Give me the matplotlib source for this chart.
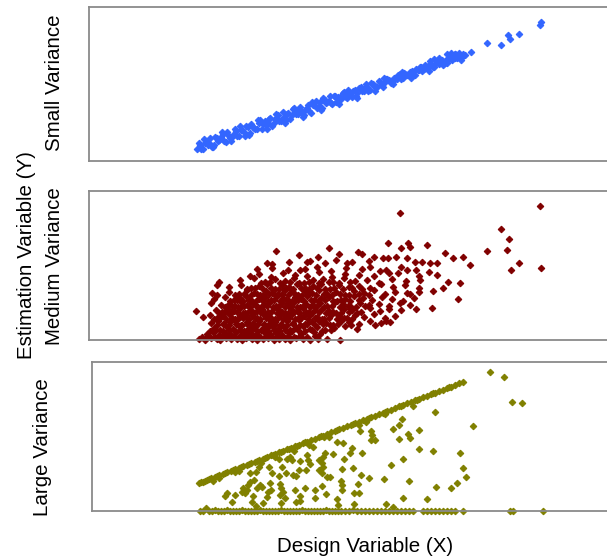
import matplotlib
matplotlib.use("Agg")
import matplotlib.pyplot as plt

plt.rcParams['font.family'] = ['Liberation Sans', 'DejaVu Sans']

# ---------------- data (design variable X, estimation variable Y) ----------------
small_x = [108,111,114,117,120,123,126,129,132,135,138,141,144,147,150,153,156,159,162,165,
           168,171,174,177,180,183,186,189,192,195,198,201,204,207,210,213,216,219,222,225,
           228,231,234,237,240,243,246,249,252,255,258,261,264,267,270,273,276,279,282,285,
           288,291,294,297,300,303,306,309,312,315,318,321,324,327,330,333,336,339,342,345,
           348,351,354,357,360,363,366,369,372,
           110,112,116,119,121,125,128,130,134,137,139,143,146,148,152,155,157,161,164,166,
           170,173,176,179,181,185,188,190,194,197,199,203,206,209,211,215,218,220,224,227,
           230,233,236,238,242,245,247,251,254,257,259,263,266,268,272,275,278,281,284,286,
           290,293,296,298,302,305,308,311,314,316,320,323,326,329,332,335,338,341,344,347,
           350,353,356,359,362,365,368,371,
           451,452,430,419,421,412,398,382,376,371,366,361,358,362,366,370,374,341,345,350,348,
           115,124,133,142,151,160,169,178,187,196,205,214,223,232,241,250,259,268,277,286,
           295,304,313,322,331,340,349,358,367,372]
small_y = [12,16,12,20,18,14,24,20,24,20,29,23,26,30,25,31,25,34,37,33,
           32,41,37,36,42,35,42,46,40,44,47,42,52,47,52,48,51,56,48,56,
           53,59,63,58,60,57,65,64,62,69,63,67,70,65,73,70,73,70,78,75,
           74,79,74,82,81,79,82,86,82,88,86,89,86,92,91,90,96,93,96,94,
           99,98,96,101,103,101,103,106,103,
           18,12,18,16,23,16,23,21,27,19,26,24,32,25,31,29,35,28,34,32,
           38,32,40,38,43,38,43,40,49,41,48,46,51,47,54,46,53,50,56,60,
           55,53,61,59,58,65,59,64,68,64,66,64,71,68,74,70,74,71,77,75,
           80,76,79,82,78,83,82,87,83,87,86,90,86,91,94,92,94,97,94,98,
           97,101,98,102,102,105,103,106,
           136,139,127,126,122,116,118,109,106,104,107,103,107,108,107,108,107,100,102,103,99,
           22,14,29,20,35,26,41,32,47,38,53,44,59,51,65,57,71,63,77,70,
           83,77,89,83,94,90,100,98,105,101]

medium_x = [110,116,122,128,131,137,142,148,153,157,163,168,174,179,185,190,196,201,207,214,221,229,238,251,
            118,124,130,136,141,147,152,158,163,169,175,181,187,193,200,212,225,231,
            125,131,138,144,150,155,161,166,172,178,183,189,195,201,207,214,221,228,236,245,256,268,286,297,
            122,129,135,141,146,152,158,164,170,175,181,186,192,198,204,210,216,223,230,237,244,252,260,270,281,292,301,
            114,121,128,134,140,146,151,157,163,168,174,180,186,191,197,203,209,215,221,228,235,242,250,258,266,275,285,296,306,
            107,127,133,139,145,151,156,162,168,173,179,185,190,196,202,208,214,220,226,233,240,247,255,263,272,281,291,300,312,327,343,
            122,132,140,146,152,158,164,169,175,181,187,193,199,205,211,217,224,231,238,246,254,262,271,280,290,300,311,321,
            125,136,145,151,157,163,170,176,182,188,194,200,206,212,218,225,232,240,248,256,265,274,283,293,303,314,325,369,
            123,128,140,150,158,165,171,177,183,189,196,202,209,216,223,230,238,247,256,265,275,285,296,306,318,321,330,344,
            128,140,152,162,170,178,186,193,200,208,216,224,232,241,250,260,270,281,292,304,316,330,354,
            130,151,165,176,186,196,205,215,224,234,244,255,266,278,290,303,317,331,359,371,
            161,170,182,194,206,218,230,243,256,270,285,300,309,318,330,340,348,
            168,183,199,211,216,228,242,257,273,281,291,297,312,327,
            178,183,200,218,221,236,247,258,263,280,326,333,341,348,381,
            187,210,229,250,269,273,285,294,299,307,318,356,364,374,
            240,299,312,319,321,338,398,418,
            311,451,412,420,430,422,452]
medium_y = [1,0,2,1,0,2,1,1,0,2,1,0,1,2,0,1,1,0,2,1,0,1,1,0,
            6,8,5,7,6,8,5,7,6,5,8,6,7,5,7,6,8,6,
            12,10,13,11,14,9,12,13,10,12,14,11,13,10,12,14,11,13,10,12,14,11,15,19,
            17,19,16,18,20,15,18,17,19,16,20,18,15,19,17,20,16,18,19,17,15,19,18,16,19,17,18,
            23,25,22,24,26,21,24,23,25,22,26,24,21,25,23,26,22,24,25,23,21,25,24,22,25,23,26,22,24,
            29,30,28,31,29,32,27,30,29,31,28,32,30,27,31,29,32,28,30,31,29,27,31,30,28,32,29,31,30,31,32,
            37,35,36,34,38,35,37,33,36,38,34,37,35,38,33,36,35,37,34,38,36,33,37,35,36,34,37,35,
            41,43,40,42,44,39,41,43,40,44,42,39,43,41,44,40,42,43,39,41,44,42,40,43,41,39,42,41,
            47,45,48,46,50,47,45,49,47,46,50,48,45,49,47,50,46,48,45,49,47,50,46,48,47,46,48,49,
            55,53,55,52,54,56,51,55,53,56,52,54,56,51,55,53,54,52,56,53,55,52,52,
            58,60,62,58,61,59,62,57,60,61,58,62,59,60,57,61,59,60,58,57,
            64,66,63,67,65,64,68,63,66,65,64,67,67,70,64,68,65,
            71,72,70,70,71,73,69,72,71,73,69,70,73,70,
            77,76,78,78,79,77,80,77,78,79,78,78,77,77,75,
            89,85,83,86,88,86,83,82,82,83,82,87,82,83,
            92,97,92,97,93,95,89,90,
            127,134,111,101,77,70,72]

# extra points filling the dense core of the medium-variance cloud
medium_core = [(113,3),(119,4),(126,3),(133,4),(139,3),(145,4),(150,3),(156,4),(161,3),(166,4),
               (171,3),(177,4),(183,3),(188,4),(194,3),(199,4),(205,3),(211,4),(218,3),(226,4),
               (121,9),(127,10),(134,9),(140,10),(146,9),(151,10),(157,9),(162,10),(168,9),(173,10),
               (179,9),(185,10),(190,9),(196,10),(203,9),(209,10),(216,9),(223,10),(233,9),(242,10),
               (128,15),(134,16),(140,15),(147,16),(153,15),(158,16),(164,15),(169,16),(175,15),(180,16),
               (186,15),(192,16),(198,15),(204,16),(211,15),(218,16),(226,15),(234,16),(241,15),(249,16),(262,15),
               (125,21),(131,22),(137,21),(143,22),(149,21),(154,22),(160,21),(166,22),(171,21),(177,22),
               (183,21),(189,22),(194,21),(200,22),(206,21),(212,22),(219,21),(226,22),(233,21),(240,22),
               (248,21),(255,22),(263,21),
               (130,27),(136,28),(142,27),(148,28),(154,27),(159,28),(165,27),(171,28),(176,27),(182,28),
               (188,27),(193,28),(199,27),(205,28),(211,27),(217,28),(223,27),(230,28),(237,27),(244,28),
               (252,27),(260,28),(268,27),
               (136,33),(143,34),(149,33),(155,34),(161,33),(167,34),(172,33),(178,34),(184,33),(190,34),
               (196,33),(202,34),(208,33),(214,34),(221,33),(228,34),(235,33),(243,34),(251,33),(259,34),
               (267,33),(276,34),
               (141,39),(148,40),(154,39),(160,40),(167,39),(173,40),(179,39),(185,40),(191,39),(197,40),
               (203,39),(209,40),(215,39),(222,40),(229,39),(236,40),(244,39),(252,40),(261,39),(270,40),
               (146,45),(155,46),(162,45),(168,46),(174,45),(180,46),(186,45),(193,46),(199,45),(206,46),
               (213,45),(220,46),(227,45),(235,46),(243,45),(251,46),(260,45),(270,46),(280,45),
               (158,51),(166,52),(174,51),(182,52),(190,51),(197,52),(204,51),(212,52),(220,51),(228,52),
               (236,51),(245,52),(254,51),(263,52),(273,51),
               (172,57),(181,58),(191,57),(201,58),(210,57),(220,58),(230,57),(240,58),(250,57),(261,58)]

large_floor_x = [111,114,117,120,123,126,129,132,135,138,141,144,147,150,153,156,159,162,165,168,
                 171,174,177,180,183,186,189,192,195,198,201,204,207,210,213,216,219,222,225,228,
                 231,234,237,240,243,246,249,252,
                 256,260,264,268,272,276,280,284,288,292,296,300,304,308,312,316,320,324,
                 334,338,342,346,350,354,358,362,366,
                 374,421,424,454]
large_floor_y = [0,0,3,0,0,1,0,0,0,1,0,0,0,0,1,0,0,0,0,0,
                 1,0,0,0,0,0,0,1,0,0,0,0,0,0,1,0,0,0,0,0,
                 0,0,1,0,0,0,0,0,
                 0,0,1,0,0,0,0,0,0,0,0,0,0,0,0,0,0,0,
                 0,0,0,0,0,0,0,0,0,
                 0,0,0,0]

large_edge_x = [110,114,118,122,126,130,134,138,142,146,150,154,158,162,166,170,174,178,182,186,
                190,194,198,202,206,210,214,218,222,226,230,234,238,242,246,250,254,258,262,266,
                270,274,278,282,286,290,294,298,302,306,310,314,318,322,326,330,334,338,342,346,
                350,354,358,362,366,370,374,
                112,116,120,128,136,144,152,160,168,176,184,192,200,208,216,232,248,264,280,296,
                312,328,344,360]
large_edge_y = [28.0,29.5,31.1,32.6,34.1,35.7,37.2,38.7,40.3,41.8,43.3,44.9,46.4,47.9,49.4,51.0,52.5,54.0,55.6,57.1,
                58.6,60.2,61.7,63.2,64.8,66.3,67.8,69.4,70.9,72.4,74.0,75.5,77.0,78.6,80.1,81.6,83.2,84.7,86.2,87.8,
                89.3,90.8,92.3,93.9,95.4,96.9,98.5,100.0,101.5,103.1,104.6,106.1,107.7,109.2,110.7,112.3,113.8,115.3,116.9,118.4,
                119.9,121.5,123.0,124.5,126.1,127.6,129.1,
                28.8,30.3,31.8,34.9,38.0,41.1,44.1,47.2,50.2,53.3,56.3,59.4,62.5,65.5,68.6,74.7,80.9,87.0,93.1,99.2,
                105.4,111.5,117.6,123.8]

large_inner = [(401,139),(415,134),(423,109),(433,108),(384,85),(346,99),(371,58),(374,43),(377,34),(368,28),
               (362,23),(347,24),(338,12),(344,60),(330,62),(330,81),(324,105),(321,73),(319,77),(313,92),
               (310,86),(304,82),(310,72),(314,52),(302,46),(320,30),(314,13),(295,32),(297,7),(304,4),
               (280,33),(272,36),(269,27),(265,18),(270,18),(265,7),(273,58),(264,43),(263,63),(261,58),
               (255,52),(253,42),(252,30),(253,26),(253,21),(248,12),(249,6),(248,69),(254,68),(271,80),
               (282,80),(283,76),(282,71),(235,74),(244,57),(236,58),(234,54),(230,51),(233,48),(234,44),
               (230,41),(233,38),(238,34),(241,34),(233,25),(226,21),(237,17),(226,13),(218,56),(219,51),
               (221,47),(211,50),(210,41),(207,35),(217,41),(216,23),(206,21),(211,15),(211,10),(207,9),
               (201,54),(198,52),(203,51),(204,36),(193,44),(190,35),(197,38),(191,27),(192,23),(194,19),
               (191,16),(196,13),(192,8),(180,44),(183,38),(181,28),(178,14),(174,8),(179,19),(182,21),
               (170,44),(167,39),(171,26),(168,23),(173,24),(164,15),(167,5),(163,9),(161,29),(159,26),
               (158,21),(156,18),(154,23),(153,19),(146,16),(138,18),(136,15),(143,9),(161,38),(165,31),
               (146,39),(172,48),(186,54),(190,52),(220,66),(224,64),(205,60),(240,74),(270,86),(296,97),
               (124,30),(130,33),(150,40),(277,89),(286,71)]

panel_labels = ["Small Variance", "Medium Variance", "Large Variance"]
colors = ["#3366FF", "#800000", "#808000"]

# ---------------- layout ----------------
W, H = 607, 560
fig = plt.figure(figsize=(W / 100, H / 100), dpi=100)
X0 = 89  # x-origin reference (pixels)

def make_axes(left, top, bottom, right=640):
    ax = fig.add_axes([left / W, (H - bottom) / H, (right - left) / W, (bottom - top) / H])
    ax.set_xlim(left - X0, right - X0)
    ax.set_ylim(0, bottom - top)
    ax.set_xticks([])
    ax.set_yticks([])
    for s in ax.spines.values():
        s.set_color("#8a8a8a")
        s.set_linewidth(1.3)
    ax.set_facecolor("white")
    return ax

ax1 = make_axes(89, 7, 161)
ax2 = make_axes(89, 191, 340)
ax3 = make_axes(92, 362, 511)

mk = dict(marker="D", linestyle="none", markersize=3.3, markeredgewidth=0.8, clip_on=False)

ax1.plot(small_x, small_y, color=colors[0], markeredgecolor=colors[0], **mk)
ax2.plot(medium_x, medium_y, color=colors[1], markeredgecolor=colors[1], **mk)
ax2.plot([p[0] for p in medium_core], [p[1] for p in medium_core],
         color=colors[1], markeredgecolor=colors[1], **mk)
ax3.plot(large_floor_x, large_floor_y, color=colors[2], markeredgecolor=colors[2], **mk)
ax3.plot(large_edge_x, large_edge_y, color=colors[2], markeredgecolor=colors[2], **mk)
ax3.plot([p[0] for p in large_inner], [p[1] for p in large_inner],
         color=colors[2], markeredgecolor=colors[2], **mk)

fs = 14.8
fig.text(55 / W, 1 - 83 / H, panel_labels[0], rotation=90, ha="center", va="center", fontsize=fs)
fig.text(55 / W, 1 - 266 / H, panel_labels[1], rotation=90, ha="center", va="center", fontsize=fs)
fig.text(42 / W, 1 - 447 / H, panel_labels[2], rotation=90, ha="center", va="center", fontsize=fs)
fig.text(26 / W, 1 - 255 / H, "Estimation Variable (Y)", rotation=90, ha="center", va="center", fontsize=fs)
fig.text(365 / W, 1 - 547 / H, "Design Variable (X)", ha="center", va="center", fontsize=fs)

fig.savefig("out.png", dpi=100)
